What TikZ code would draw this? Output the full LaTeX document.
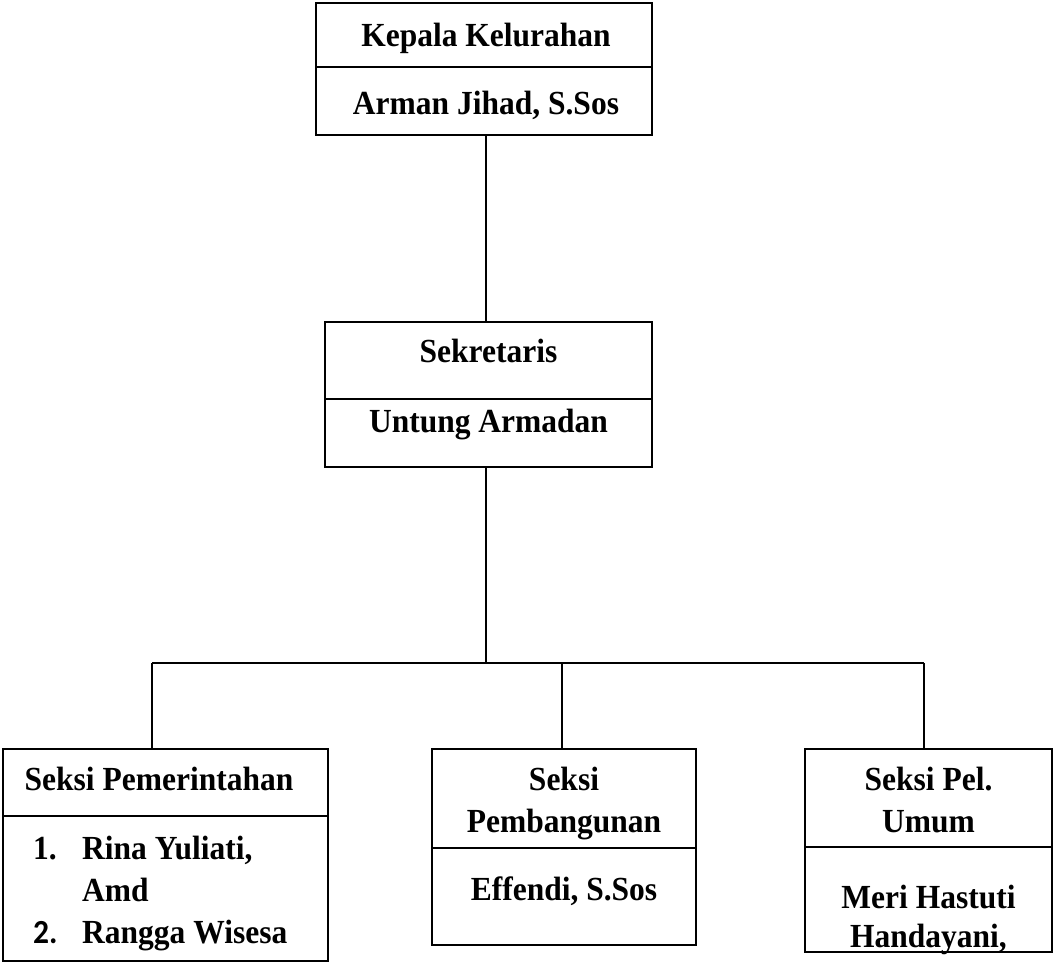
\documentclass[tikz,border=0pt]{standalone}
\usepackage{fontspec}
\usepackage{graphicx}
\setmainfont{Liberation Serif}
\newfontfamily\calfont{Carlito}
\newcommand{\Tx}[1]{\scalebox{1}[1.07]{#1}}
\begin{document}
\begin{tikzpicture}[x=1pt,y=-1pt,
  box/.style={draw=black,line width=1.6pt,rectangle,inner sep=0pt},
  lbl/.style={anchor=base,inner sep=0pt,font=\fontsize{31.5}{42}\selectfont\bfseries},
  lbll/.style={anchor=base west,inner sep=0pt,font=\fontsize{31.5}{42}\selectfont\bfseries},
  conn/.style={line width=1.6pt,black},
  divider/.style={line width=1.6pt,black}]
\useasboundingbox (0,0) rectangle (1053,963);
% boxes
\node[box,minimum width=336pt,minimum height=132pt] (top) at (484,69) {};
\node[box,minimum width=327pt,minimum height=145pt] (sek) at (488.5,394.5) {};
\node[box,minimum width=325pt,minimum height=212pt] (pem) at (165.5,855) {};
\node[box,minimum width=264pt,minimum height=196pt] (pbg) at (564,847) {};
\node[box,minimum width=247pt,minimum height=203pt] (pel) at (928.5,850.5) {};
% dividers
\draw[divider] (top.west |- 0,67) -- (top.east |- 0,67);
\draw[divider] (sek.west |- 0,399) -- (sek.east |- 0,399);
\draw[divider] (pem.west |- 0,816) -- (pem.east |- 0,816);
\draw[divider] (pbg.west |- 0,848) -- (pbg.east |- 0,848);
\draw[divider] (pel.west |- 0,847) -- (pel.east |- 0,847);
% texts
\node[lbl] (t1) at (486,47) {\Tx{Kepala Kelurahan}};
\node[lbl] (t2) at (486,115) {\Tx{Arman Jihad, S.Sos}};
\node[lbl] (t3) at (488.5,362) {\Tx{Sekretaris}};
\node[lbl] (t4) at (488.5,432) {\Tx{Untung Armadan}};
\node[lbl] (t5) at (159,790) {\Tx{Seksi Pemerintahan}};
\node[lbll] (t6a) at (33,859) {\Tx{1.}};
\node[lbll] (t6) at (82,859) {\Tx{Rina Yuliati,}};
\node[lbll] (t7) at (82,901) {\Tx{Amd}};
\node[lbll,font=\fontsize{31.5}{42}\selectfont\calfont\bfseries] (t8a) at (33,943) {\Tx{2.}};
\node[lbll] (t8) at (82,943) {\Tx{Rangga Wisesa}};
\node[lbl] (t9) at (564,790) {\Tx{Seksi}};
\node[lbl] (t10) at (564,832) {\Tx{Pembangunan}};
\node[lbl] (t11) at (564,900) {\Tx{Effendi, S.Sos}};
\node[lbl] (t12) at (928.5,790) {\Tx{Seksi Pel.}};
\node[lbl] (t13) at (928.5,832) {\Tx{Umum}};
\node[lbl] (t14) at (928.5,908) {\Tx{Meri Hastuti}};
\node[lbl] (t15) at (928.5,947) {\Tx{Handayani,}};
% connectors
\coordinate (j) at (486,663);
\coordinate (jl) at (152,663);
\coordinate (jm) at (562,663);
\coordinate (jr) at (924,663);
\draw[conn] (j |- top.south) -- (j |- sek.north);
\draw[conn] (j |- sek.south) -- (j);
\draw[conn] (jl) -- (jr);
\draw[conn] (jl) -- (jl |- pem.north);
\draw[conn] (jm) -- (jm |- pbg.north);
\draw[conn] (jr) -- (jr |- pel.north);
\end{tikzpicture}
\end{document}
